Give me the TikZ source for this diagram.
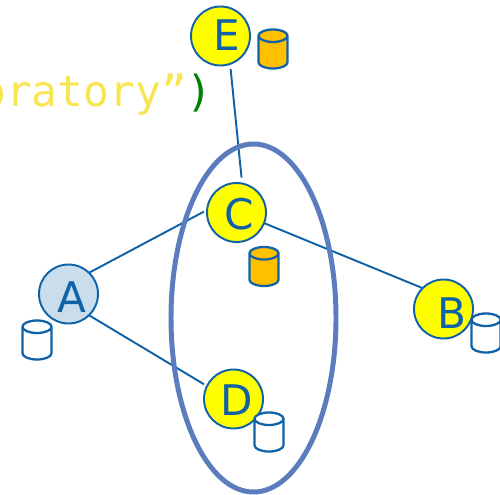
\documentclass[tikz,border=0pt]{standalone}
\usepackage{fontspec}
\setsansfont{DejaVu Sans}
\setmonofont{DejaVu Sans Mono}
\usetikzlibrary{shapes.geometric}
\definecolor{linkblue}{HTML}{0F62A8}
\definecolor{ringblue}{HTML}{5B7DBD}
\definecolor{paleblue}{HTML}{C9DDEC}
\definecolor{siteyellow}{HTML}{FFFF00}
\definecolor{dbgold}{HTML}{FFC000}
\definecolor{codeyellow}{HTML}{F7E650}
\definecolor{codegreen}{HTML}{008000}
\tikzset{
  site/.style={circle, draw=linkblue, line width=1.1pt, minimum size=1.18cm, inner sep=0pt, outer sep=0pt},
  sitename/.style={text=linkblue, font=\sffamily\fontsize{24}{24}\selectfont, inner sep=0pt},
  db/.style={cylinder, anchor=shape center, shape border rotate=90, shape aspect=0.5, draw=linkblue, line width=1.3pt, minimum width=0.58cm, minimum height=0.78cm, inner sep=0.25cm},
  link/.style={draw=linkblue, line width=1.1pt}
}

\begin{document}
\begin{tikzpicture}
  \useasboundingbox (0,0) rectangle (10,-9.88);
  \node[anchor=base east, font=\ttfamily\fontsize{24.4}{24.4}\selectfont, text=codeyellow, inner sep=0pt] (code) at (4.26,-2.14) {oratory”\textcolor{codegreen}{)}};
  \node[site, fill=siteyellow, label={[sitename, xshift=0.13cm, yshift=0.02cm]center:E}] (E) at (4.41,-0.72) {};
  \node[site, fill=siteyellow, label={[sitename, xshift=0.05cm, yshift=-0.03cm]center:C}] (C) at (4.73,-4.25) {};
  \node[site, fill=paleblue, label={[sitename, xshift=0.07cm, yshift=-0.07cm]center:A}] (A) at (1.37,-5.88) {};
  \node[site, fill=siteyellow, label={[sitename, xshift=0.16cm, yshift=-0.08cm]center:B}] (B) at (8.87,-6.18) {};
  \node[site, fill=siteyellow, label={[sitename, xshift=0.06cm, yshift=-0.03cm]center:D}] (D) at (4.67,-7.98) {};
  \draw[link, shorten <=0.1cm, shorten >=0.12cm] (E.-71) -- (C.79);
  \draw[link, shorten >=0.07cm] (A.46) -- (C.175);
  \draw[link, shorten >=0.07cm] (A.-46) -- (D.154);
  \draw[link] (C.-21) -- (B.135);
  \node[ellipse, draw=ringblue, line width=2.83pt, minimum width=3.3cm, minimum height=6.96cm, inner sep=0pt] (group) at (5.07,-6.36) {};
  \node[db, fill=dbgold] (dbE) at (5.46,-0.98) {};
  \node[db, fill=dbgold] (dbC) at (5.28,-5.33) {};
  \node[db, fill=white] (dbA) at (0.74,-6.8) {};
  \node[db, fill=white] (dbB) at (9.72,-6.66) {};
  \node[db, fill=white] (dbD) at (5.38,-8.64) {};
\end{tikzpicture}
\end{document}
